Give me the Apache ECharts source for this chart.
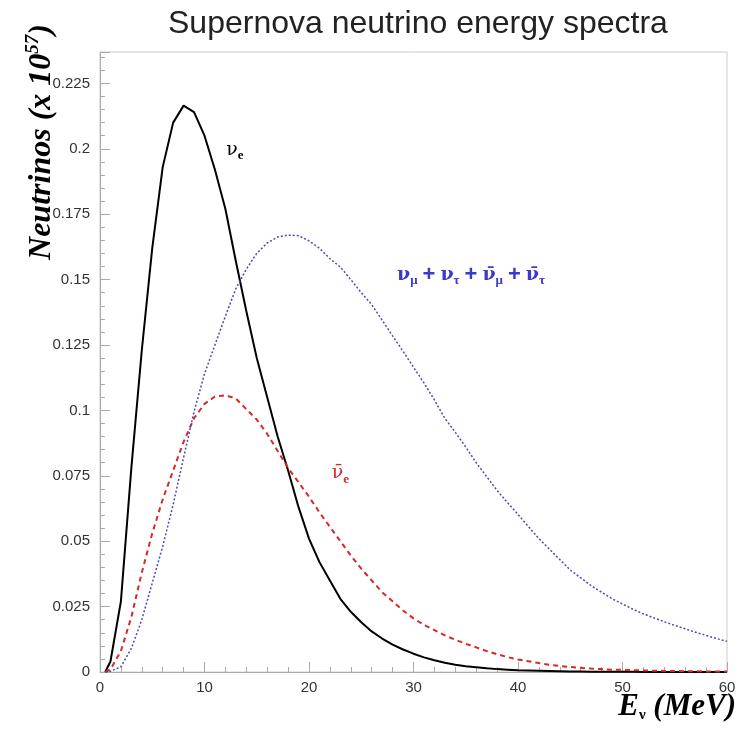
<!DOCTYPE html>
<html>
<head>
<meta charset="utf-8">
<script src="https://cdn.jsdelivr.net/npm/echarts@6/dist/echarts.min.js"></script>
<style>
  html, body { margin: 0; padding: 0; background: #fff; }
  #spectra { width: 741px; height: 733px; }
</style>
</head>
<body>
<div id="spectra"></div>
<script>
var energy = [0.5, 1, 2, 3, 4, 5, 6, 7, 8, 9, 10, 11, 12, 13, 14, 15, 16, 17, 18, 19, 20,
  21, 22, 23, 24, 25, 26, 27, 28, 29, 30, 31, 32, 33, 34, 35, 36, 37, 38, 39, 40,
  41, 42, 43, 44, 45, 46, 47, 48, 49, 50, 51, 52, 53, 54, 55, 56, 57, 58, 59, 60];

var nuE = [0, 0.004, 0.027, 0.078, 0.123, 0.162, 0.193, 0.210, 0.2165, 0.214, 0.205,
  0.192, 0.177, 0.157, 0.138, 0.12, 0.105, 0.090, 0.077, 0.063, 0.051,
  0.042, 0.035, 0.028, 0.023, 0.019, 0.0155, 0.0128, 0.0105, 0.0086, 0.007,
  0.0056, 0.0045, 0.0035, 0.0028, 0.0022, 0.0018, 0.0014, 0.0011, 0.0009, 0.0007,
  0.0006, 0.0005, 0.0004, 0.0003, 0.0002, 0.0002, 0.0001, 0.0001, 0.0001, 0.0001,
  0.0001, 0, 0, 0, 0, 0, 0, 0, 0, 0];

var nuEbar = [0, 0.001, 0.008, 0.021, 0.038, 0.053, 0.066, 0.077, 0.088, 0.097, 0.1025,
  0.1053, 0.1058, 0.1045, 0.1005, 0.0965, 0.091, 0.0845, 0.078, 0.0725, 0.067,
  0.061, 0.0555, 0.050, 0.0445, 0.0395, 0.035, 0.0305, 0.027, 0.0235, 0.0205,
  0.018, 0.016, 0.014, 0.0123, 0.0108, 0.0094, 0.008, 0.0068, 0.0057, 0.0048,
  0.0041, 0.0034, 0.0028, 0.0023, 0.0019, 0.0016, 0.0013, 0.0011, 0.0009, 0.0008,
  0.0007, 0.0006, 0.0005, 0.0004, 0.0004, 0.0003, 0.0003, 0.0002, 0.0002, 0.0002];

var nuX = [0, 0.0003, 0.002, 0.009, 0.02, 0.034, 0.048, 0.064, 0.082, 0.0995, 0.114,
  0.125, 0.136, 0.1465, 0.154, 0.160, 0.164, 0.1663, 0.167, 0.1668, 0.1648,
  0.162, 0.158, 0.1548, 0.150, 0.145, 0.1404, 0.1345, 0.1285, 0.1226, 0.1165,
  0.1105, 0.104, 0.097, 0.0916, 0.086, 0.080, 0.0747, 0.0694, 0.0647, 0.0602,
  0.0556, 0.051, 0.047, 0.043, 0.039, 0.036, 0.033, 0.0305, 0.028, 0.026,
  0.024, 0.0222, 0.0207, 0.0192, 0.0178, 0.0165, 0.0152, 0.014, 0.0128, 0.0117];

var yTicks = [0, 0.025, 0.05, 0.075, 0.1, 0.125, 0.15, 0.175, 0.2, 0.225];

function pairs(vals) {
  return energy.map(function (e, i) { return [e, vals[i]]; });
}

function tag(coord, text, color, weight) {
  return {
    symbol: 'circle', symbolSize: 1, itemStyle: { color: 'rgba(0,0,0,0)' },
    silent: true,
    data: [{ coord: coord }],
    label: {
      show: true, position: 'inside', formatter: text, color: color,
      rich: {
        n: { fontFamily: 'DejaVu Serif', fontWeight: weight, fontSize: 19, color: color },
        s: { fontFamily: 'Liberation Serif', fontWeight: 'bold', fontSize: 13, color: color, padding: [12, 0, 0, 0] },
        p: { fontFamily: 'Liberation Sans', fontWeight: 'bold', fontSize: 22, color: color, padding: [0, 5, 0, 5] }
      }
    }
  };
}

var chart = echarts.init(document.getElementById('spectra'));
var option = {
  animation: false,
  title: {
    text: 'Supernova neutrino energy spectra',
    left: 163, top: 3,
    textStyle: { fontFamily: 'Liberation Sans', fontWeight: 'normal', fontSize: 32, color: '#222' }
  },
  grid: { left: 100, right: 14, top: 52, bottom: 61, show: true, borderColor: '#ccc', borderWidth: 1 },
  xAxis: {
    type: 'value', min: 0, max: 60, interval: 10,
    axisLine: { lineStyle: { color: '#aaa' } },
    axisTick: { inside: true, length: 10, lineStyle: { color: '#aaa' } },
    minorTick: { show: true, splitNumber: 5, length: 5, lineStyle: { color: '#aaa' } },
    splitLine: { show: false },
    axisLabel: { fontFamily: 'Liberation Sans', fontSize: 15, color: '#333', margin: 8 }
  },
  yAxis: {
    type: 'value', min: 0, max: 0.237, interval: 0.025,
    axisLine: { show: true, lineStyle: { color: '#aaa' } },
    axisTick: { show: true, inside: true, length: 10, lineStyle: { color: '#aaa' } },
    minorTick: { show: true, splitNumber: 5, length: 5, lineStyle: { color: '#aaa' } },
    splitLine: { show: false },
    axisLabel: {
      fontFamily: 'Liberation Sans', fontSize: 15, color: '#333', margin: 10,
      showMaxLabel: false,
      formatter: function (v) {
        var t = yTicks.find(function (k) { return Math.abs(k - v) < 1e-9; });
        return t === undefined ? '' : String(t);
      }
    }
  },
  series: [
    {
      name: 'nu_e', type: 'line', data: pairs(nuE), showSymbol: false,
      lineStyle: { color: '#000', width: 2 },
      markPoint: tag([12.9, 0.1995], '{n|ν}{s|e}', '#000', 'normal')
    },
    {
      name: 'nu_e_bar', type: 'line', data: pairs(nuEbar), showSymbol: false,
      lineStyle: { color: '#d42a2a', width: 2, type: [5, 4] },
      markPoint: tag([23.0, 0.076], '{n|ν\u0304}{s|e}', '#d42a2a', 'normal')
    },
    {
      name: 'nu_x', type: 'line', data: pairs(nuX), showSymbol: false,
      lineStyle: { color: '#4a4ab8', width: 1.5, type: [2, 2] },
      markPoint: tag([35.5, 0.1518],
        '{n|ν}{s|μ}{p|+}{n|ν}{s|τ}{p|+}{n|ν\u0304}{s|μ}{p|+}{n|ν\u0304}{s|τ}', '#3b3bc8', 'bold')
    }
  ],
  graphic: [
    {
      type: 'text', x: 42, y: 142, rotation: Math.PI / 2,
      style: {
        text: '{t|Neutrinos (x 10}{u|57}{t|)}',
        align: 'center', verticalAlign: 'middle',
        rich: {
          t: { fontFamily: 'Liberation Serif', fontWeight: 'bold', fontStyle: 'italic', fontSize: 32, fill: '#000' },
          u: { fontFamily: 'Liberation Serif', fontWeight: 'bold', fontStyle: 'italic', fontSize: 19, fill: '#000', padding: [0, 0, 17, 0] }
        }
      }
    },
    {
      type: 'text', x: 736, y: 707,
      style: {
        text: '{t|E}{s|ν}{t| (MeV)}',
        align: 'right', verticalAlign: 'middle',
        rich: {
          t: { fontFamily: 'Liberation Serif', fontWeight: 'bold', fontStyle: 'italic', fontSize: 31, fill: '#000' },
          s: { fontFamily: 'Liberation Serif', fontWeight: 'bold', fontSize: 15, fill: '#000', padding: [16, 0, 0, 0] }
        }
      }
    }
  ]
};
chart.setOption(option);
</script>
</body>
</html>
